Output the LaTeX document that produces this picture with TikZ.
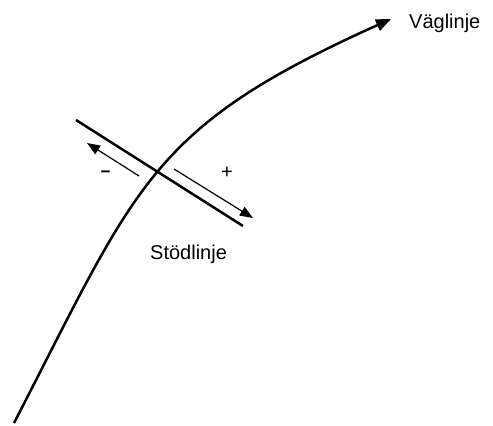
\documentclass[tikz,border=0pt]{standalone}
\usepackage{fontspec}
\setmainfont{Liberation Sans}
\usetikzlibrary{arrows.meta}
\tikzset{lbl/.style={font=\fontsize{20}{24}\selectfont,inner sep=0pt},
  thickline/.style={line width=2.5pt},
  thinarrow/.style={line width=1.2pt,-{Triangle[length=13pt,width=10pt]}}}
\begin{document}
\begin{tikzpicture}[x=1pt,y=-1pt]
\useasboundingbox (0,0) rectangle (493,426);
\coordinate (vstart) at (14,423);
\coordinate (vend) at (391,19);
\node[lbl,anchor=base west] (vag) at (409,28.3){Väglinje};
\draw[thickline,-{Triangle[length=15pt,width=12pt]}] (vstart) .. controls (138,183) and (149,128) .. (vend);
% stodlinje med riktningar
\coordinate (sa) at (76,120);
\coordinate (sb) at (243,226);
\draw[thickline] (sa) -- (sb);
\coordinate (m1) at (139,176); \coordinate (m2) at (87,143);
\coordinate (p1) at (174,169); \coordinate (p2) at (253,218);
\draw[thinarrow] (m1) -- (m2);
\draw[thinarrow] (p1) -- (p2);
\node[lbl,font=\fontsize{17}{20}\selectfont\bfseries] (minus) at (105.5,174){−};
\node[lbl] (plus) at (227,173){+};
\node[lbl,anchor=base west] (stod) at (150,259){Stödlinje};
\end{tikzpicture}
\end{document}
